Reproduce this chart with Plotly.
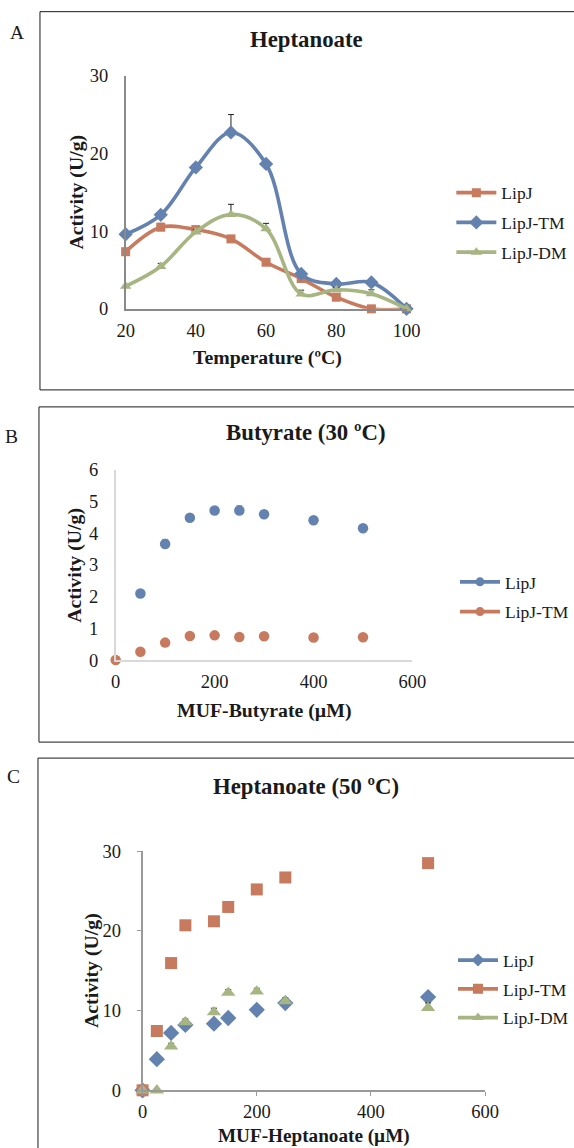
import plotly.graph_objects as go

W, H = 574, 1148
FONT = "Liberation Serif"
BLUE = "#6482b0"
ORANGE = "#c77a5e"
GREEN = "#a6b582"
TXT = "#1a1a1a"

# ---------------- Panel A: Heptanoate vs temperature ----------------
temp = [20, 30, 40, 50, 60, 70, 80, 90, 100]
a_lipj = [7.35, 10.5, 10.2, 9.0, 6.0, 3.9, 1.5, 0.0, 0.0]
a_lipj_err = [0.2, 0.5, 0.4, 0.2, 0.2, 0.2, 0.2, 0.1, 0.0]
a_tm = [9.6, 12.1, 18.2, 22.7, 18.65, 4.5, 3.2, 3.4, 0.0]
a_tm_err = [0.3, 0.3, 0.3, 2.3, 0.4, 0.3, 0.2, 0.2, 0.0]
a_dm = [2.9, 5.45, 9.9, 12.15, 10.3, 1.9, 2.45, 1.95, 0.0]
a_dm_err = [0.2, 0.4, 0.3, 1.3, 0.7, 0.5, 0.3, 0.5, 0.0]

# ---------------- Panel B: Butyrate (30 ºC) ----------------
b_conc_lipj = [50, 100, 150, 200, 250, 300, 400, 500]
b_lipj = [2.1, 3.66, 4.49, 4.72, 4.72, 4.6, 4.41, 4.16]
b_lipj_err = [0.05, 0.15, 0.05, 0.05, 0.15, 0.05, 0.05, 0.05]
b_conc_tm = [0, 50, 100, 150, 200, 250, 300, 400, 500]
b_tm = [0.0, 0.26, 0.55, 0.76, 0.78, 0.73, 0.75, 0.71, 0.72]
b_tm_err = [0.0, 0.03, 0.05, 0.05, 0.05, 0.03, 0.03, 0.03, 0.03]

# ---------------- Panel C: Heptanoate (50 ºC) ----------------
c_conc = [0, 25, 50, 75, 125, 150, 200, 250, 500]
c_lipj = [0.0, 3.9, 7.2, 8.2, 8.35, 9.07, 10.1, 10.95, 11.7]
c_lipj_err = [0.0, 0.2, 0.2, 0.2, 0.2, 0.2, 0.2, 0.2, 0.2]
c_tm = [0.0, 7.44, 15.96, 20.7, 21.2, 23.0, 25.2, 26.7, 28.5]
c_tm_err = [0.0, 0.5, 0.3, 0.3, 0.3, 0.3, 0.3, 0.3, 0.3]
c_dm = [0.0, 0.0, 5.5, 8.55, 9.8, 12.25, 12.4, 11.2, 10.35]
c_dm_err = [0.0, 0.2, 0.4, 0.4, 0.5, 0.4, 0.4, 0.4, 0.6]

SX, SY = 0.962, 0.982  # compensation for the slight shrink seen in the photograph


def px_x(p):
    return (W / 2 + (p - W / 2) / SX) / W


def px_y(p):
    return 1 - (H / 2 + (p - H / 2) / SY) / H


def err(arr, color="#222222"):
    return dict(type="data", array=arr, arrayminus=[0] * len(arr), symmetric=False,
                color=color, thickness=1, width=3)


fig = go.Figure()

# Panel A traces (smoothed lines)
for name, ys, es, col, sym, msz in [
    ("LipJ", a_lipj, a_lipj_err, ORANGE, "square", 9),
    ("LipJ-TM", a_tm, a_tm_err, BLUE, "diamond", 11),
    ("LipJ-DM", a_dm, a_dm_err, GREEN, "triangle-up", 10),
]:
    fig.add_trace(go.Scatter(
        x=temp, y=ys, name=name, mode="lines+markers",
        line=dict(color=col, width=3.6, shape="spline", smoothing=1.0),
        marker=dict(symbol=sym, size=msz, color=col),
        error_y=err(es), xaxis="x", yaxis="y", cliponaxis=False,
        legend="legend", legendgroup="a" + name, showlegend=True))

# Panel B traces (markers only) + legend entries
for name, xs, ys, es, col in [
    ("LipJ", b_conc_lipj, b_lipj, b_lipj_err, BLUE),
    ("LipJ-TM", b_conc_tm, b_tm, b_tm_err, ORANGE),
]:
    fig.add_trace(go.Scatter(
        x=xs, y=ys, name=name, mode="markers",
        marker=dict(symbol="circle", size=10.5, color=col),
        error_y=err(es, "#8c8c8c"), xaxis="x2", yaxis="y2", cliponaxis=False,
        showlegend=False))
    fig.add_trace(go.Scatter(
        x=[None], y=[None], name=name, mode="lines+markers",
        line=dict(color=col, width=3.6), marker=dict(symbol="circle", size=9, color=col),
        xaxis="x2", yaxis="y2", legend="legend2", legendgroup="b" + name, showlegend=True))

# Panel C traces (markers only) + legend entries
for name, ys, es, col, sym, msz in [
    ("LipJ", c_lipj, c_lipj_err, BLUE, "diamond", 12.5),
    ("LipJ-TM", c_tm, c_tm_err, ORANGE, "square", 12),
    ("LipJ-DM", c_dm, c_dm_err, GREEN, "triangle-up", 12.5),
]:
    fig.add_trace(go.Scatter(
        x=c_conc, y=ys, name=name, mode="markers",
        marker=dict(symbol=sym, size=msz, color=col),
        error_y=err(es), xaxis="x3", yaxis="y3", cliponaxis=False,
        showlegend=False))
for name, col, sym, msz in [
    ("LipJ", BLUE, "diamond", 10),
    ("LipJ-TM", ORANGE, "square", 10),
    ("LipJ-DM", GREEN, "triangle-up", 10),
]:
    fig.add_trace(go.Scatter(
        x=[None], y=[None], name=name, mode="lines+markers",
        line=dict(color=col, width=3.6), marker=dict(symbol=sym, size=msz, color=col),
        xaxis="x3", yaxis="y3", legend="legend3", legendgroup="c" + name, showlegend=True))

tickfont = dict(family=FONT, size=18.5, color=TXT)


def xax(domain, anchor, rng, dtick, linecolor, ticks="", standoff=4):
    return dict(domain=domain, anchor=anchor, range=rng, dtick=dtick, showgrid=False,
                zeroline=False, showline=True, linecolor=linecolor, linewidth=1.5,
                ticks=ticks, ticklen=4, tickcolor=linecolor, tickfont=tickfont,
                ticklabelstandoff=standoff, fixedrange=True)


def yax(domain, anchor, rng, dtick, linecolor, ticks=""):
    return dict(domain=domain, anchor=anchor, range=rng, dtick=dtick, showgrid=False,
                zeroline=False, showline=True, linecolor=linecolor, linewidth=1.5,
                ticks=ticks, ticklen=4, tickcolor=linecolor, tickfont=tickfont,
                ticklabelstandoff=12, fixedrange=True)


legfont = dict(family=FONT, size=17.5, color=TXT)


def leg(xp, yp, gap):
    return dict(x=px_x(xp), y=px_y(yp), xanchor="left", yanchor="top", xref="paper",
                yref="paper", font=legfont, bgcolor="rgba(0,0,0,0)", itemwidth=40,
                traceorder="grouped", tracegroupgap=gap, itemclick=False)


fig.update_layout(
    width=W, height=H, margin=dict(l=0, r=0, t=0, b=0),
    paper_bgcolor="white", plot_bgcolor="white",
    xaxis=xax([px_x(128), px_x(410)], "y", [20, 100], 20, "#8a8a8a"),
    yaxis=yax([px_y(309), px_y(76)], "x", [0, 30], 10, "#8a8a8a"),
    xaxis2=xax([px_x(118), px_x(416)], "y2", [0, 600], 200, "#d9d9d9"),
    yaxis2=yax([px_y(660), px_y(470)], "x2", [0, 6], 1, "#d9d9d9"),
    xaxis3=xax([px_x(145), px_x(489)], "y3", [0, 600], 200, "#9a9a9a", "outside", 0),
    yaxis3=yax([px_y(1090), px_y(851)], "x3", [0, 30], 10, "#9a9a9a", "outside"),
    legend=leg(455, 175, 4),
    legend2=leg(459, 564, 4),
    legend3=leg(457, 942, 3),
    showlegend=True,
)

shapes = []
for x0, y0, x1, y1 in [(42, 12, 620, 390), (41, 407, 620, 742), (40, 758, 620, 1220)]:
    shapes.append(dict(type="rect", xref="paper", yref="paper",
                       x0=px_x(x0), x1=px_x(x1), y0=px_y(y1), y1=px_y(y0),
                       line=dict(color="#1a1a1a", width=1), fillcolor="rgba(0,0,0,0)"))
fig.update_layout(shapes=shapes)

anns = []


def ann(text, xp, yp, size, bold=False, angle=0):
    anns.append(dict(text=("<b>%s</b>" % text) if bold else text, x=px_x(xp), y=px_y(yp),
                     xref="paper", yref="paper", showarrow=False, textangle=angle,
                     xanchor="center", yanchor="middle",
                     font=dict(family=FONT, size=size, color=TXT)))


ann("A", 19, 33, 19.5)
ann("B", 13, 437, 19.5)
ann("C", 15, 776, 19.5)
ann("Heptanoate", 310, 40, 22.8, True)
ann("Butyrate (30 ºC)", 309, 433, 22.8, True)
ann("Heptanoate (50 ºC)", 309, 786, 22.8, True)
ann("Temperature (ºC)", 270, 358, 19.8, True)
ann("MUF-Butyrate (µM)", 267, 710, 19.8, True)
ann("MUF-Heptanoate (µM)", 317, 1135.5, 19.2, True)
ann("Activity (U/g)", 79, 192, 19.8, True, -90)
ann("Activity (U/g)", 77, 565, 19.8, True, -90)
ann("Activity (U/g)", 93, 970, 19.8, True, -90)
fig.update_layout(annotations=anns)

fig.write_html("out.html", config={"displayModeBar": False},
               post_script="document.body.style.margin='0';document.body.style.overflow='hidden';")
